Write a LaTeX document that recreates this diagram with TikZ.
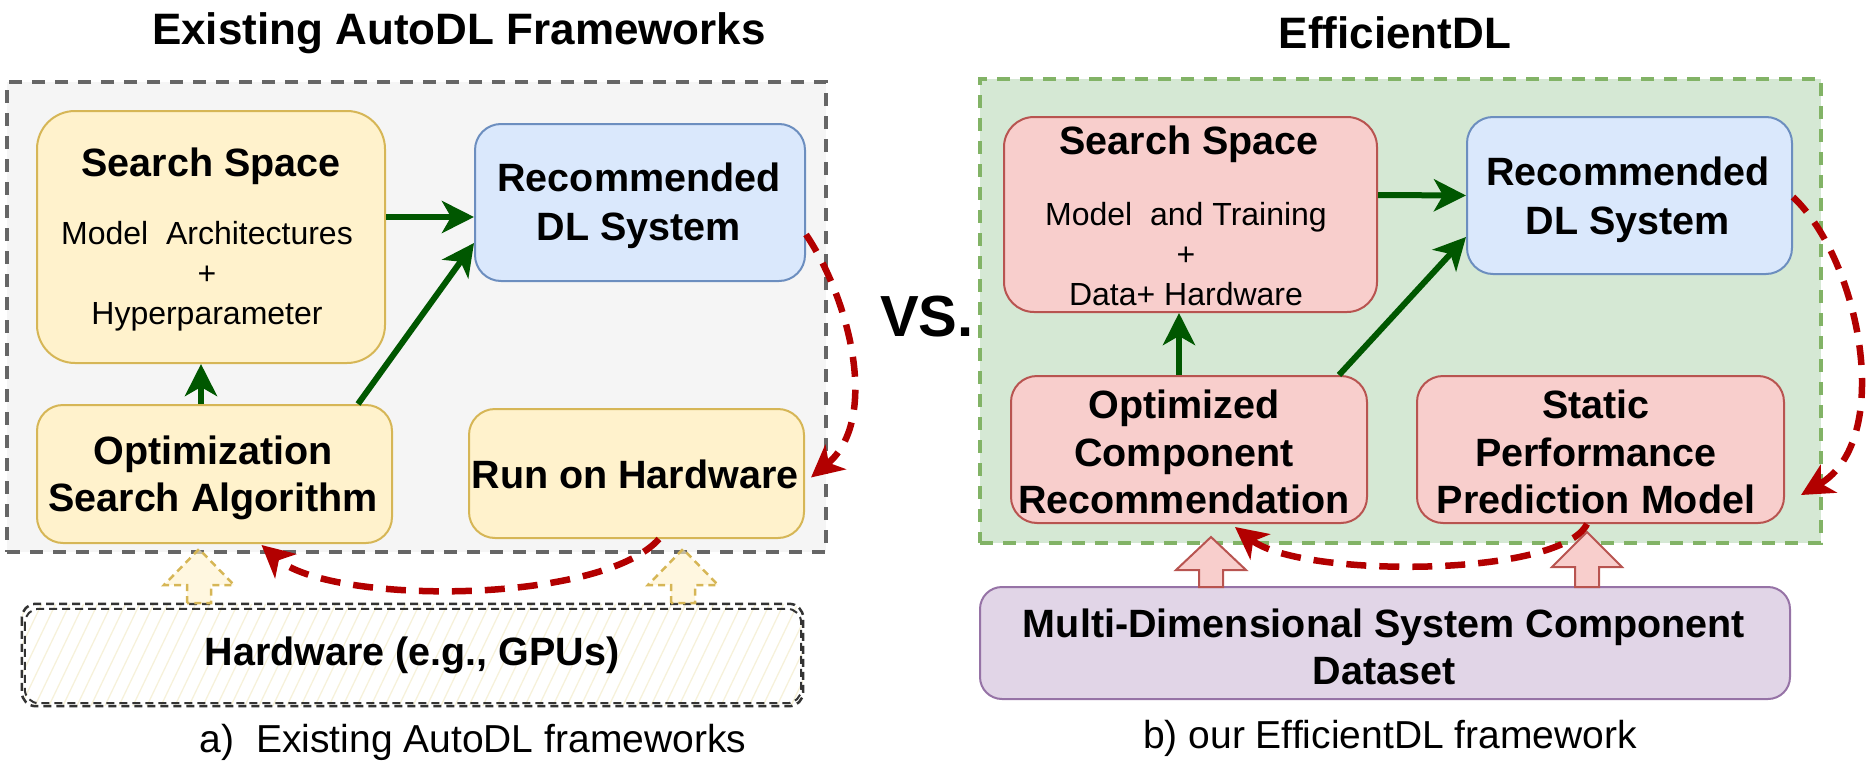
\documentclass[tikz,border=0pt]{standalone}
\usepackage{fontspec}
\setmainfont{Liberation Sans}
\usetikzlibrary{arrows.meta,calc}
\definecolor{contfillL}{HTML}{F5F5F5}
\definecolor{contdrawL}{HTML}{666666}
\definecolor{contfillR}{HTML}{D5E8D4}
\definecolor{contdrawR}{HTML}{82B366}
\definecolor{yfill}{HTML}{FFF2CC}
\definecolor{ydraw}{HTML}{D6B656}
\definecolor{bfill}{HTML}{DAE8FC}
\definecolor{bdraw}{HTML}{6C8EBF}
\definecolor{pfill}{HTML}{F8CECC}
\definecolor{pdraw}{HTML}{B85450}
\definecolor{vfill}{HTML}{E1D5E7}
\definecolor{vdraw}{HTML}{9673A6}
\definecolor{gline}{HTML}{005700}
\definecolor{rline}{HTML}{B20000}
\definecolor{hatchc}{HTML}{F6F1DA}
\definecolor{hwdraw}{HTML}{333333}
\newcommand\blkarrow[5]{%
  \draw[#1] ({#2-12},#5) -- ({#2-12},#4) -- ({#2-35},#4) -- (#2,#3) -- ({#2+35},#4) -- ({#2+12},#4) -- ({#2+12},#5) -- cycle;}
\begin{document}
\begin{tikzpicture}[x=1pt,y=-1pt,
  boxbase/.style={inner sep=0pt, line width=2pt},
  ybox/.style={boxbase, draw=ydraw, fill=yfill},
  bbox/.style={boxbase, draw=bdraw, fill=bfill},
  pbox/.style={boxbase, draw=pdraw, fill=pfill},
  vbox/.style={boxbase, draw=vdraw, fill=vfill},
  contL/.style={inner sep=0pt, draw=contdrawL, fill=contfillL, line width=4pt, dash pattern=on 13pt off 10pt},
  contR/.style={inner sep=0pt, draw=contdrawR, fill=contfillR, line width=4pt, dash pattern=on 13pt off 10pt},
  btxt/.style={font=\fontsize{39.5}{47}\selectfont\bfseries, align=center, inner sep=0pt},
  rtxt/.style={font=\fontsize{32}{40}\selectfont, align=center, inner sep=0pt},
  ttxt/.style={font=\fontsize{44}{50}\selectfont\bfseries, inner sep=0pt},
  ctxt/.style={font=\fontsize{39}{46}\selectfont, inner sep=0pt},
  garrow/.style={draw=gline, line width=6pt, -{Stealth[length=32pt,width=32pt,inset=9pt]}},
  rarrow/.style={draw=rline, line width=6.5pt, dash pattern=on 20pt off 13pt, -{Stealth[length=32pt,width=32pt,inset=9pt]}},
  yblk/.style={draw=ydraw, line width=2.5pt, dash pattern=on 7pt off 5pt, fill=yfill, fill opacity=0.6},
  pblk/.style={draw=pdraw, line width=2pt, fill=pfill},
]
\useasboundingbox (0,0) rectangle (1875,771);

% ---------------- Left panel ----------------
\node[ttxt] (titleA) at (459,33) {Existing AutoDL Frameworks};
\node[contL, minimum width=819pt, minimum height=470pt] (cL) at (416.5,317) {};

\node[ybox, rounded corners=38pt, minimum width=348pt, minimum height=252pt] (ss) at (211,237) {};
\node[btxt] (ssT) at (211,166) {Search Space};
\node[rtxt] (ssB) at (207,276) {Model\ \ Architectures\\+\\Hyperparameter};

\node[bbox, rounded corners=26pt, minimum width=330pt, minimum height=157pt] (rec) at (640,202.5) {};
\node[btxt, font=\fontsize{39.5}{49}\selectfont\bfseries] (recT) at (639,206) {Recommended\\DL System};

\node[ybox, rounded corners=26pt, minimum width=355pt, minimum height=138pt] (opt) at (214.5,474) {};
\node[btxt] (optT) at (213,478) {Optimization\\Search Algorithm};

\node[ybox, rounded corners=26pt, minimum width=335pt, minimum height=129pt] (run) at (636.5,473.5) {};
\node[btxt] (runT) at (635,474) {Run on Hardware};

% hardware sketch box
\node[inner sep=0pt, minimum width=781pt, minimum height=102pt] (hw) at (412.5,655) {};
\begin{scope}
  \clip[rounded corners=14pt] (hw.north west) rectangle (hw.south east);
  \foreach \i in {-80,-66,...,860} {
    \draw[hatchc, line width=1.3pt] (\i,712) -- ++(55,-115);
  }
\end{scope}
\draw[hwdraw, line width=2.5pt, dash pattern=on 8pt off 5pt, rounded corners=14pt] (hw.north west) rectangle (hw.south east);
\draw[hwdraw, line width=2pt, dash pattern=on 8pt off 5pt, rounded corners=14pt] ($(hw.north west)+(3,5)$) rectangle ($(hw.south east)+(-2,-3)$);
\node[btxt] (hwT) at (412,655) {Hardware (e.g., GPUs)};

\node[ctxt] (capA) at (473,742) {a)\ \ Existing AutoDL frameworks};

% yellow dashed block arrows
\blkarrow{yblk}{199}{549}{585}{603}
\blkarrow{yblk}{683}{549}{585}{603}

% green arrows
\draw[garrow] ([yshift=20pt]ss.east) -- ([yshift=-14.5pt]rec.west);
\draw[garrow] ([xshift=-13.5pt]opt.north) -- ([xshift=-10pt]ss.south);
\draw[garrow] ([xshift=-35pt]opt.north east) -- ([yshift=-40.5pt]rec.west);

% red dashed arrows
\draw[rarrow] ([yshift=-32pt]rec.east) .. controls (850,300) and (880,420) .. ([xshift=6pt,yshift=-4pt]run.east);
\draw[rarrow] ([xshift=22.5pt]run.south) .. controls (600,605) and (330,605) .. ([xshift=47pt,yshift=-1pt]opt.south);

% VS
\node[font=\fontsize{58}{64}\selectfont\bfseries, inner sep=0pt] (vs) at (927,317) {VS.};

% ---------------- Right panel ----------------
\node[ttxt] (titleB) at (1395,33) {EfficientDL};
\node[contR, minimum width=841pt, minimum height=464pt] (cR) at (1400.5,311) {};

\node[pbox, rounded corners=30pt, minimum width=373pt, minimum height=195pt] (ss2) at (1190.5,214.5) {};
\node[btxt] (ss2T) at (1189,144) {Search Space};
\node[rtxt] (ss2B) at (1186,254) {Model\ \ and Training\\+\\Data+ Hardware};

\node[bbox, rounded corners=26pt, minimum width=325pt, minimum height=157pt] (rec2) at (1629.5,195.5) {};
\node[btxt, font=\fontsize{39.5}{49}\selectfont\bfseries] (rec2T) at (1628,200) {Recommended\\DL System};

\node[pbox, rounded corners=26pt, minimum width=356pt, minimum height=147pt] (opt2) at (1189,449.5) {};
\node[btxt, font=\fontsize{39.5}{47.5}\selectfont\bfseries] (opt2T) at (1184,452) {Optimized\\Component\\Recommendation};

\node[pbox, rounded corners=26pt, minimum width=367pt, minimum height=147pt] (stat) at (1600.5,449.5) {};
\node[btxt, font=\fontsize{39.5}{47.5}\selectfont\bfseries] (statT) at (1596,452) {Static\\Performance\\Prediction Model};

\node[vbox, rounded corners=22pt, minimum width=810pt, minimum height=112pt] (mdd) at (1385,643) {};
\node[btxt] (mddT) at (1384,647) {Multi-Dimensional System Component\\Dataset};

\node[ctxt] (capB) at (1390,738) {b) our EfficientDL framework};

% pink block arrows
\blkarrow{pblk}{1211}{537}{570}{587}
\blkarrow{pblk}{1587}{532}{567}{587}

% green arrows
\draw[garrow] ([yshift=19.5pt]ss2.east) -- (rec2.west);
\draw[garrow] ([xshift=-10pt]opt2.north) -- ([xshift=-11.5pt]ss2.south);
\draw[garrow] ([xshift=-29pt]opt2.north east) -- ([yshift=-41.5pt]rec2.west);

% red dashed arrows
\draw[rarrow] ([yshift=-1.5pt]rec2.east) .. controls (1860,260) and (1895,440) .. ([xshift=16pt,yshift=-45.5pt]stat.east);
\draw[rarrow] ([xshift=-13.5pt]stat.south) .. controls (1560,578) and (1300,578) .. ([xshift=46pt,yshift=-3pt]opt2.south);
\end{tikzpicture}
\end{document}
